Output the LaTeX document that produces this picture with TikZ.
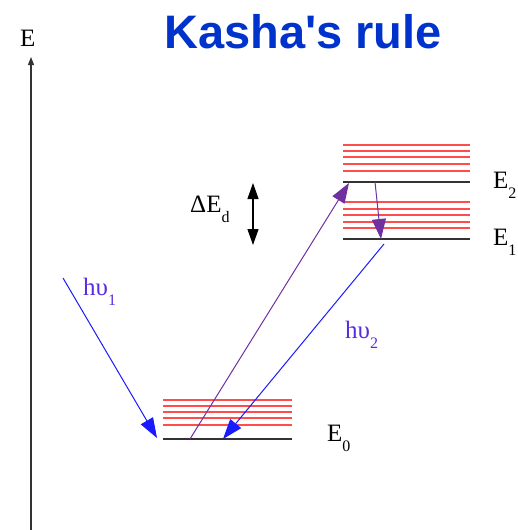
\documentclass[tikz,border=0pt]{standalone}
\usepackage{fontspec}
\setmainfont{Liberation Serif}
\newfontfamily\titlefont{Liberation Sans}
\usetikzlibrary{arrows.meta}
\definecolor{ink}{HTML}{333333}
\definecolor{sublevel}{HTML}{FF4D4D}
\definecolor{photon}{HTML}{1A1AFF}
\definecolor{pump}{HTML}{7030A0}
\definecolor{titleblue}{HTML}{0033CC}
\definecolor{labelblue}{HTML}{5A2BE0}
\newcommand{\lowsub}[1]{\raisebox{-10pt}{\fontsize{16}{16}\selectfont #1}}

\begin{document}
\begin{tikzpicture}[x=1pt,y=-1pt,>={Triangle[length=20pt,width=14pt]},
  level/.style={ink,line width=1.4pt},
  vib/.style={sublevel,line width=1.2pt},
  lbl/.style={font=\fontsize{25}{25}\selectfont,inner sep=0pt,anchor=base west},
  ray/.style={->,photon,line width=1pt},
  lift/.style={->,pump,line width=1pt}]
\useasboundingbox (0,0) rectangle (517,530);
% axis
\draw[->,ink,line width=1.2pt,>={Triangle[length=8pt,width=6pt]}] (31,530) -- (31,57) coordinate (top);
\node[lbl] (axis) at (20,46) {E};
\node[font=\titlefont\bfseries\fontsize{47}{47}\selectfont,text=titleblue] (title) at (303,32) {Kasha's rule};
% vibrational sublevels
\foreach \y in {145,151,157,164,171} \draw[vib] (343,\y) -- (470,\y);
\foreach \y in {202,209,215,222,228} \draw[vib] (343,\y) -- (470,\y);
\foreach \y in {400,406,412,418,425} \draw[vib] (163,\y) -- (292,\y);
% electronic levels
\draw[level] (343,182) coordinate (e2l) -- (470,182) coordinate (e2r);
\draw[level] (343,239) coordinate (e1l) -- (470,239) coordinate (e1r);
\draw[level] (163,439) coordinate (e0l) -- (292,439) coordinate (e0r);
\node[lbl] (E2) at (493,188) {E\lowsub{2}};
\node[lbl] (E1) at (493,245) {E\lowsub{1}};
\node[lbl] (E0) at (327,441) {E\lowsub{0}};
% transitions
\coordinate (in1) at (63,278);
\coordinate (abs) at (157,438);
\draw[ray] (in1) -- (abs);
\coordinate (up0) at (190,439);
\coordinate (up2) at (349,183);
\draw[lift] (up0) -- (up2);
\coordinate (ic2) at (375,182);
\coordinate (ic1) at (381,239);
\draw[lift] (ic2) -- (ic1);
\coordinate (em1) at (384,244);
\coordinate (em0) at (223,439);
\draw[ray] (em1) -- (em0);
\node[lbl,text=labelblue] (hv1) at (83,295) {hυ\lowsub{1}};
\node[lbl,text=labelblue] (hv2) at (345,338) {hυ\lowsub{2}};
% vibrational gap
\draw[<->,black,line width=1.2pt,>={Triangle[length=16pt,width=11pt]}] (253,183) coordinate (gapt) -- (253,245) coordinate (gapb);
\node[lbl] (dE) at (190,212) {ΔE\lowsub{d}};
\end{tikzpicture}
\end{document}
